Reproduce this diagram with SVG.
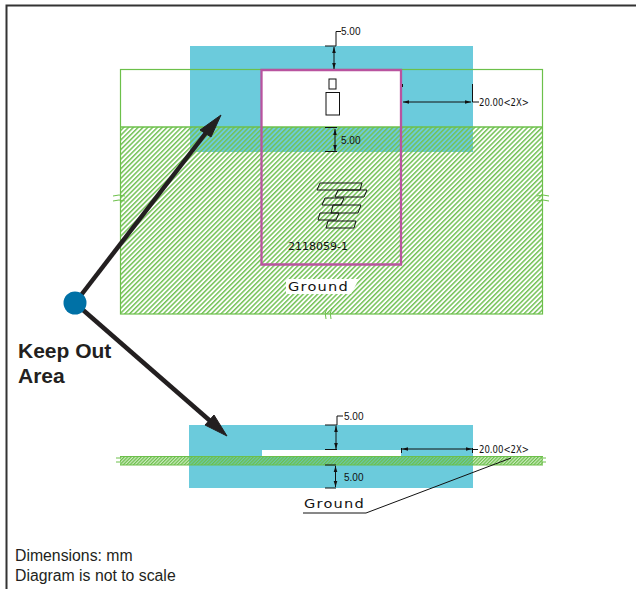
<svg xmlns="http://www.w3.org/2000/svg" width="636" height="589" viewBox="0 0 636 589">
<style>
.dim{font-family:"Liberation Sans",Arial,sans-serif;font-size:10px;fill:#111}
.cad{font-family:"DejaVu Sans",sans-serif;font-size:13px;fill:#111;letter-spacing:1.1px}
.cads{font-family:"DejaVu Sans",sans-serif;font-size:10px;fill:#111}
.ln{fill:none;stroke:#111;stroke-width:1}
.gr{stroke:#6cc04a;fill:none}
.lab{font-family:"Liberation Sans",Arial,sans-serif;fill:#231f20}
.ar{stroke:#231f20;stroke-width:4.500;fill:none}
</style>
<defs>
<pattern id="h" width="3.400" height="3.400" patternUnits="userSpaceOnUse" patternTransform="rotate(45)">
<rect x="0" y="0" width="1.500" height="3.400" fill="#74c257"/>
</pattern>
<pattern id="h2" width="2.400" height="2.400" patternUnits="userSpaceOnUse" patternTransform="rotate(45)">
<rect x="0" y="0" width="1.200" height="2.400" fill="#6cc04a"/>
</pattern>
<marker id="a" viewBox="0 0 10 10" refX="10" refY="5" markerWidth="6" markerHeight="6" orient="auto-start-reverse"><path d="M0 2L10 5L0 8z" fill="#111"/></marker>
</defs>
<rect width="636" height="589" fill="#fff"/>
<g id="frame"><path d="M636 5.500H6.500V589" fill="none" stroke="#333" stroke-width="2"/></g>
<g id="top-view">
<rect x="190" y="46" width="283" height="106" fill="#6bcbdc"/>
<rect x="262" y="70" width="139" height="57" fill="#fff"/>
<rect x="120.500" y="127" width="422" height="187" fill="url(#h)"/>
<rect x="120.500" y="69.500" width="422" height="244.500" class="gr" stroke-width="1.200"/>
<path d="M120 127H543" class="gr" stroke-width="1.500"/>
<path d="M261.500 70H401V264.500H261.500Z" fill="none" stroke="#b9539f" stroke-width="2.300"/>
<path d="M113 196q6-2 12 0M113 201q6-2 12 0M537 196q6-2 12 0M537 201q6-2 12 0M327 308q-3 5 -1 11M332 308q-3 5 -1 11" class="gr"/>
</g>
<g id="component">
<rect x="329" y="79" width="7" height="10" class="ln"/>
<rect x="326" y="92.500" width="13.500" height="22.500" class="ln"/>
<path d="M320 183H362L360 190H317ZM338 190H367L364 197H335ZM325 198H344L341 205H322ZM333 205H361L358 213H331ZM320 213H339L336 220H318ZM328 221H356L354 228H326Z" class="ln"/>
</g>
<g id="top-dims">
<path d="M325 46H336M336 46V31.500H341" class="ln"/>
<path d="M334 47V69" class="ln" marker-start="url(#a)" marker-end="url(#a)"/>
<path d="M325 127.500H337M325 151.500H337" class="ln"/>
<path d="M335 129V151" class="ln" marker-start="url(#a)" marker-end="url(#a)"/>
<path d="M403 102H471" class="ln" marker-start="url(#a)" marker-end="url(#a)"/>
<path d="M402.500 84V87M472.500 84V102H479" class="ln"/>
<text class="dim" x="341" y="35">5.00</text>
<text class="dim" x="341" y="144">5.00</text>
<text class="cads" x="479" y="106" textLength="50" lengthAdjust="spacingAndGlyphs">20.00&lt;2X&gt;</text>
<text class="cads" x="288" y="250" textLength="60" lengthAdjust="spacingAndGlyphs">2118059-1</text>
</g>
<g id="ground-label-top">
<path d="M286 279H359L351 294H286Z" fill="#fff"/>
<text class="cad" x="288" y="291" textLength="61" lengthAdjust="spacingAndGlyphs">Ground</text>
</g>
<g id="bottom-view">
<rect x="189" y="425" width="284" height="63" fill="#6bcbdc"/>
<rect x="262" y="450" width="139" height="6.500" fill="#fff"/>
<rect x="120" y="456" width="423" height="9" fill="#6cc04a" opacity=".35"/>
<rect x="120" y="456" width="423" height="9" fill="url(#h2)"/>
<path d="M120 456.500H543M120 465H543" class="gr"/>
<path d="M116 458H121M116 462H121M541 458H546M541 462H546" class="gr"/>
</g>
<g id="bottom-dims">
<path d="M325 425H337M337 425V416H343" class="ln"/>
<path d="M336 426V449" class="ln" marker-start="url(#a)" marker-end="url(#a)"/>
<path d="M325 449.500H337" class="ln"/>
<path d="M325 465H336M325 488H336" class="ln"/>
<path d="M335.500 466V487" class="ln" marker-start="url(#a)" marker-end="url(#a)"/>
<path d="M402 449H472" class="ln" marker-start="url(#a)" marker-end="url(#a)"/>
<path d="M401.500 448V453M472.500 448V453M472.500 449.500H478" class="ln"/>
<text class="dim" x="344" y="420">5.00</text>
<text class="dim" x="344" y="481">5.00</text>
<text class="cads" x="479" y="453" textLength="50" lengthAdjust="spacingAndGlyphs">20.00&lt;2X&gt;</text>
<text class="cad" x="304" y="508" textLength="61" lengthAdjust="spacingAndGlyphs">Ground</text>
<path d="M303 513H366L511 458" class="ln"/>
</g>
<g id="callout">
<path d="M75 303L212 125" class="ar"/>
<path d="M75 303L216 426" class="ar"/>
<path d="M221 115L200 130L211 137Z" fill="#231f20" stroke="#231f20" stroke-linejoin="round"/>
<path d="M227 436L205 425L214 415Z" fill="#231f20" stroke="#231f20" stroke-linejoin="round"/>
<circle cx="75" cy="303" r="11.500" fill="#0071a6"/>
<text class="lab" x="18" y="358" font-size="21" font-weight="700">Keep Out</text>
<text class="lab" x="18" y="383" font-size="21" font-weight="700">Area</text>
</g>
<g id="notes">
<text class="lab" x="15" y="561" font-size="15.800">Dimensions: mm</text>
<text class="lab" x="15" y="581" font-size="15.800">Diagram is not to scale</text>
</g>
</svg>
